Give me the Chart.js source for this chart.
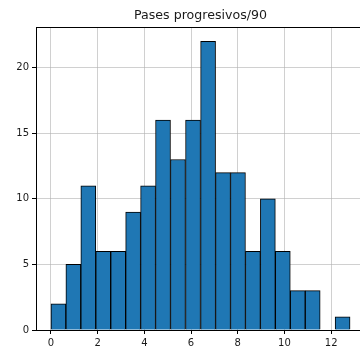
<!DOCTYPE html>
<html><head><meta charset="utf-8">
<script src="https://cdn.jsdelivr.net/npm/chart.js@4/dist/chart.umd.min.js"></script>
<style>html,body{margin:0;padding:0;background:#fff;overflow:hidden;width:360px;height:350px}#wrap{width:380px;height:350px}</style>
</head><body><div id="wrap"><canvas id="c" width="380" height="350"></canvas></div>
<script>
const title = "Pases progresivos/90";
const binEdges = [0.00,0.64,1.28,1.92,2.56,3.20,3.84,4.48,5.12,5.76,6.41,7.05,7.69,8.33,8.97,9.61,10.25,10.89,11.53,12.17,12.81];
const counts = [2,5,11,6,6,9,11,16,13,16,22,12,12,6,10,6,3,3,0,1];
const xTicks = [0,2,4,6,8,10,12];
const yTicks = [0,5,10,15,20];

const pts = counts.map((c,i)=>({x:(binEdges[i]+binEdges[i+1])/2, y:c}));
const gridCol = 'rgba(176,176,176,0.75)';
const font = {family:'"DejaVu Sans", sans-serif', size:10};

const frame = {
  id:'frame',
  afterDraw(chart){
    const a = chart.chartArea, ctx = chart.ctx;
    ctx.save(); ctx.strokeStyle='#000'; ctx.lineWidth=1;
    ctx.strokeRect(Math.round(a.left)+0.5, Math.round(a.top)+0.5, Math.round(a.right-a.left), Math.round(a.bottom-a.top));
    ctx.restore();
  }
};

new Chart(document.getElementById('c'), {
  type:'bar',
  data:{datasets:[{data:pts, backgroundColor:'#1f77b4', borderColor:'#000', borderWidth:1,
    barPercentage:1, categoryPercentage:1}]},
  options:{
    responsive:false, animation:false,
    layout:{padding:{left:0,right:15,top:0,bottom:0}},
    plugins:{legend:{display:false}, tooltip:{enabled:false},
      title:{display:true, text:title, fullSize:false, color:'#1a1a1a',
        font:{family:'"DejaVu Sans", sans-serif', size:12.6, weight:'normal', lineHeight:1.2}, padding:{top:8.5,bottom:3.4}}},
    scales:{
      x:{type:'linear', min:-0.64, max:13.45, z:1, offset:false,
        afterBuildTicks(s){ s.ticks = xTicks.map(v=>({value:v})); },
        afterFit(s){ s.height = 20; },
        grid:{offset:false, color:gridCol, lineWidth:0.8, tickColor:'#000', tickLength:4, tickWidth:1},
        border:{display:true,color:'#000'},
        ticks:{font, color:'#1a1a1a', padding:3, maxRotation:0, autoSkip:false}},
      y:{min:0, max:23.1, z:1,
        afterBuildTicks(s){ s.ticks = yTicks.map(v=>({value:v})); },
        afterFit(s){ s.width = 36; },
        grid:{color:gridCol, lineWidth:0.8, tickColor:'#000', tickLength:4, tickWidth:1},
        border:{display:true,color:'#000'},
        ticks:{font, color:'#1a1a1a', padding:3, autoSkip:false}}
    }
  },
  plugins:[frame]
});
</script></body></html>
